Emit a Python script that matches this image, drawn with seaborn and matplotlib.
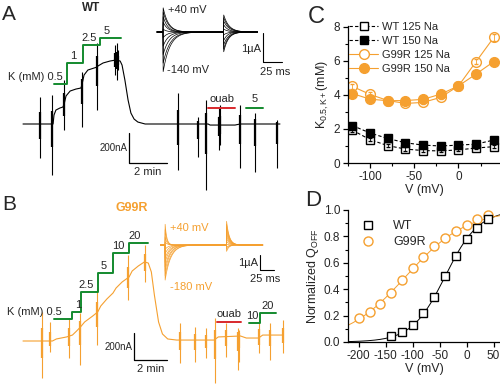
import numpy as np
import pandas as pd
import matplotlib
matplotlib.use("Agg")
import matplotlib.pyplot as plt
import seaborn as sns

# ---------------- data ----------------
ORANGE = "#f5a030"
GREEN = "#138a2e"
RED = "#d8282c"

# panel A: WT current trace (time s, current nA)
a_t = [0, 95, 98, 104, 117, 126, 130, 136, 149, 167, 183, 186, 193, 205, 224, 234,
       237, 253, 275, 294, 307, 313, 322, 332, 341, 351, 363, 386, 585, 591, 670, 686, 812]
a_i = [0, 0, 60, 93, 107, 113, 133, 187, 220, 233, 240, 260, 327, 360, 373, 380,
       387, 407, 420, 427, 420, 393, 293, 160, 73, 33, 13, 0, 0, -7, -7, 0, 0]
a_spk_t = [54, 92, 130, 186, 234, 291, 297, 300, 490, 553, 578, 619, 623, 686, 733, 803]
a_spk_top = [180, 193, 293, 347, 540, 527, 540, 493, 207, 47, 160, 107, 127, 127, 73, 27]
a_spk_bot = [-227, -340, -40, -20, 93, 327, 293, 360, -307, -220, -440, -173, -140, -293, -320, -293]
a_k_conc = ["0.5", "1", "2.5", "5"]
a_k_t = [98, 139, 190, 243, 310]
a_k_y = [267, 407, 527, 573]
a_ouab_t = [585, 670]
a_post_conc = ["5"]
a_post_t = [705, 758]
a_post_y = [107]

# panel B: G99R current trace
b_t = [0, 106, 120, 157, 178, 193, 207, 222, 251, 269, 280, 302, 324, 335, 357, 382,
       393, 415, 437, 451, 462, 473, 488, 502, 521, 553, 688, 703, 783, 804, 848, 863, 935]
b_i = [0, 0, 15, 30, 44, 74, 104, 141, 185, 215, 259, 311, 355, 392, 437, 474,
       518, 555, 585, 577, 511, 340, 141, 52, 15, 7, 7, 30, 37, 22, 22, 44, 44]
b_spk_t = [69, 98, 167, 204, 266, 379, 440, 564, 619, 659, 692, 732, 775, 779, 848, 888, 935]
b_spk_top = [215, 141, 170, 207, 392, 636, 710, 133, 104, 96, 170, 133, 96, 81, 170, 133, 155]
b_spk_bot = [-274, -81, -126, -178, -30, 303, 437, -163, -155, -126, -311, -118, -215, -155, -89, -141, -89]
b_k_conc = ["0.5", "1", "2.5", "5", "10", "20"]
b_k_t = [113, 178, 207, 269, 324, 382, 451]
b_k_y = [163, 215, 363, 503, 651, 725]
b_ouab_t = [699, 783]
b_post_conc = ["10", "20"]
b_post_t = [812, 852, 910]
b_post_y = [133, 207]

# insets: gating currents (ms, uA)
ia_volt = [-140, -120, -100, -80, -60, -40, -20, 0, 20, 40]
ia_on = [-1.4, -1.1, -0.8, -0.5, -0.2, 0.1, 0.35, 0.55, 0.72, 0.86]
ia_off = [0.6, 0.5, 0.38, 0.25, 0.1, -0.1, -0.3, -0.45, -0.6, -0.7]
ia_tau_on = [9, 9, 8, 7, 6, 5, 6, 6, 7, 7]
ia_tau_off = [7, 7, 7, 6, 6, 5, 5, 6, 6, 6]
ia_pulse = 80

ib_volt = [-180, -160, -140, -120, -100, -80, -60, -40, -20, 0, 20, 40]
ib_on = [-2.4, -2.1, -1.8, -1.5, -1.2, -0.9, -0.6, -0.3, 0.2, 0.6, 1.1, 1.5]
ib_off = [1.65, 1.45, 1.25, 1.05, 0.85, 0.65, 0.45, 0.25, 0.05, -0.15, -0.3, -0.45]
ib_tau_on = [10, 10, 9, 9, 8, 8, 7, 6, 4, 3, 3, 3]
ib_tau_off = [5, 5, 5, 5, 5, 5, 5, 5, 4, 4, 4, 4]
ib_pulse = 110

# panel C: K0.5 vs voltage
v_c = [-120, -100, -80, -60, -40, -20, 0, 20, 40]
wt125 = [1.93, 1.37, 1.02, 0.82, 0.73, 0.71, 0.77, 0.88, 0.96]
wt150 = [2.2, 1.76, 1.44, 1.19, 1.05, 1.0, 1.05, 1.11, 1.35]
g125 = [4.5, 4.03, 3.67, 3.5, 3.56, 3.86, 4.53, 5.96, 7.38]
g150 = [4.08, 3.75, 3.66, 3.67, 3.74, 4.05, 4.53, 5.23, 5.96]
err_wt125 = [0.1, 0.1, 0.1, 0.1, 0.08, 0.08, 0.08, 0.08, 0.1]
err_wt150 = [0.15, 0.12, 0.1, 0.1, 0.1, 0.1, 0.1, 0.1, 0.1]
err_g125 = [0.15, 0.12, 0.1, 0.1, 0.1, 0.12, 0.12, 0.15, 0.22]
err_g150 = [0.12, 0.1, 0.1, 0.1, 0.1, 0.1, 0.12, 0.12, 0.15]

# panel D: normalized Q-V
v_wt = [-140, -120, -100, -80, -60, -40, -20, 0, 20, 40]
q_wt = [0.045, 0.073, 0.128, 0.217, 0.343, 0.5, 0.652, 0.778, 0.866, 0.932]
v_g = [-200, -180, -160, -140, -120, -100, -80, -60, -40, -20, 0, 20, 40]
q_g = [0.184, 0.225, 0.288, 0.373, 0.47, 0.563, 0.646, 0.727, 0.79, 0.843, 0.886, 0.93, 0.962]
fit_wt = (-39.5, 31.0)   # V1/2, slope
fit_g = (-112.0, 56.0)

# ---------------- style ----------------
sns.set_theme(style="ticks")
plt.rcParams["font.family"] = ["Liberation Sans", "DejaVu Sans"]
plt.rcParams["axes.unicode_minus"] = False
plt.rcParams["mathtext.fontset"] = "custom"
plt.rcParams["mathtext.rm"] = "Liberation Sans"
plt.rcParams["mathtext.it"] = "Liberation Sans:italic"

W, H = 500, 384
fig = plt.figure(figsize=(W / 100, H / 100), dpi=100)


def px_axes(x0, y0, x1, y1):
    return fig.add_axes([x0 / W, 1 - y1 / H, (x1 - x0) / W, (y1 - y0) / H])


def ftext(x, y, s, **kw):
    fig.text(x / W, 1 - y / H, s, **kw)


def trace_axes(rect, t0_px, base_px, sx, sy):
    ax = px_axes(*rect)
    ax.set_xlim((rect[0] - t0_px) * sx, (rect[2] - t0_px) * sx)
    ax.set_ylim((base_px - rect[3]) * sy, (base_px - rect[1]) * sy)
    ax.set_axis_off()
    return ax


def draw_trace(ax, t, i, spk_t, spk_top, spk_bot, color):
    sns.lineplot(x=t, y=i, ax=ax, color=color, lw=0.8, sort=False, estimator=None)
    ax.vlines(spk_t, spk_bot, spk_top, color=color, lw=0.8)
    mid = np.interp(spk_t, t, i)
    lo = mid + 0.45 * (np.array(spk_bot) - mid)
    hi = mid + 0.45 * (np.array(spk_top) - mid)
    ax.vlines(spk_t, lo, hi, color=color, lw=1.6)


def draw_stairs(ax, k_t, k_y, conc, first_prefix=""):
    ax.plot(k_t, list(k_y) + [k_y[-1]], drawstyle="steps-post", color=GREEN, lw=1.4)
    for n, (tt, yy, c) in enumerate(zip(k_t, k_y, conc)):
        if n == 0 and first_prefix:
            ax.text(tt + 27, yy + 12, first_prefix + c, ha="right", va="bottom", fontsize=8)
        else:
            ax.text(tt + 20, yy + 12, c, ha="center", va="bottom", fontsize=8)


def draw_inset(ax, volt, a_on, a_off, tau_on, tau_off, pulse, t_end, color):
    t = np.linspace(-8, t_end, 600)
    for k in range(len(volt)):
        y = np.where(t >= 0, a_on[k] * np.exp(-np.clip(t, 0, None) / tau_on[k]), 0.0)
        y = np.where(t >= pulse, a_off[k] * np.exp(-np.clip(t - pulse, 0, None) / tau_off[k]), y)
        ax.plot(t, y, color=color, lw=0.5)


# ---------------- panel A ----------------
axA = trace_axes((0, 0, 300, 195), 23, 124, 3.16, 6.67)
draw_trace(axA, a_t, a_i, a_spk_t, a_spk_top, a_spk_bot, "black")
draw_stairs(axA, a_k_t, a_k_y, a_k_conc, "K (mM) ")
axA.plot(a_ouab_t, [a_post_y[0]] * 2, color=RED, lw=1.4)
axA.text(np.mean(a_ouab_t), a_post_y[0] + 25, "ouab", ha="center", va="bottom", fontsize=8)
axA.plot(a_post_t, a_post_y * 2, color=GREEN, lw=1.4)
axA.text(np.mean(a_post_t), a_post_y[0] + 25, a_post_conc[0], ha="center", va="bottom", fontsize=8)
axA.plot([335, 335, 455], [-60, -260, -260], color="black", lw=0.9)
axA.text(330, -160, "200nA", ha="right", va="center", fontsize=7)
axA.text(395, -290, "2 min", ha="center", va="top", fontsize=8)

axAi = trace_axes((150, 0, 300, 85), 163, 32, 1.32, 1 / 29)
draw_inset(axAi, ia_volt, ia_on, ia_off, ia_tau_on, ia_tau_off, ia_pulse, 125, "black")
axAi.plot([132, 132, 157], [-0.03, -1.03, -1.03], color="black", lw=0.8)
axAi.text(129, -0.6, "1µA", ha="right", va="center", fontsize=8)
axAi.text(148, -1.2, "25 ms", ha="center", va="top", fontsize=8)
ftext(168, 10, "+40 mV", ha="left", va="center", fontsize=8)
ftext(167, 70, "-140 mV", ha="left", va="center", fontsize=8)
ftext(91, 8, "WT", ha="center", va="center", fontsize=8.5, fontweight="bold")
ftext(2, 14, "A", ha="left", va="center", fontsize=15)

# ---------------- panel B ----------------
axB = trace_axes((0, 195, 300, 384), 23, 341, 3.6, 7.4)
draw_trace(axB, b_t, b_i, b_spk_t, b_spk_top, b_spk_bot, ORANGE)
draw_stairs(axB, b_k_t, b_k_y, b_k_conc, "K (mM) ")
axB.plot(b_ouab_t, [141, 141], color=RED, lw=1.4)
axB.text(np.mean(b_ouab_t), 165, "ouab", ha="center", va="bottom", fontsize=8)
axB.plot(b_post_t, b_post_y + [b_post_y[-1]], drawstyle="steps-post", color=GREEN, lw=1.4)
axB.text(b_post_t[0] + 14, b_post_y[0] + 12, b_post_conc[0], ha="center", va="bottom", fontsize=8)
axB.text(b_post_t[1] + 29, b_post_y[1] + 12, b_post_conc[1], ha="center", va="bottom", fontsize=8)
axB.plot([400, 400, 520], [59, -141, -141], color="black", lw=0.9)
axB.text(393, -44, "200nA", ha="right", va="center", fontsize=7)
axB.text(460, -170, "2 min", ha="center", va="top", fontsize=8)

axBi = trace_axes((150, 195, 300, 300), 165, 245, 1.79, 1 / 15)
draw_inset(axBi, ib_volt, ib_on, ib_off, ib_tau_on, ib_tau_off, ib_pulse, 175, ORANGE)
axBi.plot([170, 170, 195], [-0.65, -1.65, -1.65], color="black", lw=0.8)
axBi.text(167, -1.2, "1µA", ha="right", va="center", fontsize=8)
axBi.text(180, -1.9, "25 ms", ha="center", va="top", fontsize=8)
ftext(170, 228, "+40 mV", ha="left", va="center", fontsize=8, color=ORANGE)
ftext(170, 287, "-180 mV", ha="left", va="center", fontsize=8, color=ORANGE)
ftext(132, 208, "G99R", ha="center", va="center", fontsize=9, fontweight="bold", color=ORANGE)
ftext(2, 204, "B", ha="left", va="center", fontsize=15)

# ---------------- panel C ----------------
axC = px_axes(348, 26, 500, 163)
series_c = [
    ("WT 125 Na", wt125, err_wt125, "black", "s", "white", (3, 2), 6),
    ("WT 150 Na", wt150, err_wt150, "black", "s", "black", (3, 2), 6),
    ("G99R 125 Na", g125, err_g125, ORANGE, "o", "white", (None, None), 7),
    ("G99R 150 Na", g150, err_g150, ORANGE, "o", ORANGE, (None, None), 7),
]
for name, vals, err, col, mk, fc, dash, ms in series_c:
    df = pd.DataFrame({"V": v_c, "K": vals})
    ls = (0, dash) if dash[0] else "-"
    sns.lineplot(data=df, x="V", y="K", ax=axC, color=col, lw=0.8, linestyle=ls,
                 marker=mk, markersize=ms, markerfacecolor=fc, markeredgecolor=col,
                 markeredgewidth=1.0, label=name)
    axC.errorbar(v_c, vals, yerr=err, fmt="none", ecolor=col, elinewidth=0.6, capsize=1.5, zorder=5)
axC.set_xlim(-125, 47)
axC.set_ylim(0, 8.05)
axC.set_xticks([-100, -50, 0])
axC.set_xticks([-125, -75, -25, 25], minor=True)
axC.set_yticks([0, 2, 4, 6, 8])
axC.set_yticks([1, 3, 5, 7], minor=True)
axC.set_xlabel("V (mV)", fontsize=9, labelpad=1)
axC.set_ylabel(r"K$_{0.5,\mathrm{K+}}$(mM)", fontsize=9, labelpad=2)
leg = axC.legend(loc="upper left", bbox_to_anchor=(-0.02, 1.06), frameon=False, fontsize=8,
                 handlelength=2.6, handletextpad=0.3, labelspacing=0.35, borderaxespad=0)
ftext(316, 17, "C", ha="center", va="center", fontsize=17)

# ---------------- panel D ----------------
axD = px_axes(348, 210, 500, 342)
vfit = np.linspace(-220, 62, 200)
for (vh, k), col in [(fit_wt, "black"), (fit_g, ORANGE)]:
    sns.lineplot(x=vfit, y=1 / (1 + np.exp(-(vfit - vh) / k)), ax=axD, color=col, lw=0.7)
axD.errorbar(v_g, q_g, yerr=0.015, fmt="o", ms=6.5, mfc="white", mec=ORANGE, mew=1.0,
             ecolor=ORANGE, elinewidth=0.6, capsize=1.5, label="G99R", zorder=4)
axD.errorbar(v_wt, q_wt, yerr=0.015, fmt="s", ms=6, mfc="white", mec="black", mew=1.0,
             ecolor="black", elinewidth=0.6, capsize=1.5, label="WT", zorder=5)
axD.set_xlim(-220, 62)
axD.set_ylim(0, 1.0)
axD.set_xticks([-200, -150, -100, -50, 0, 50])
axD.set_yticks([0, 0.2, 0.4, 0.6, 0.8, 1.0])
axD.set_yticks([0.1, 0.3, 0.5, 0.7, 0.9], minor=True)
axD.yaxis.set_major_formatter(matplotlib.ticker.FormatStrFormatter("%.1f"))
axD.set_xlabel("V (mV)", fontsize=9, labelpad=1)
axD.set_ylabel(r"Normalized Q$_{\mathrm{OFF}}$", fontsize=9, labelpad=2)
h, l = axD.get_legend_handles_labels()
order = [l.index("WT"), l.index("G99R")]
axD.legend([h[o][0] for o in order], [l[o] for o in order], loc="upper left",
           bbox_to_anchor=(0.0, 0.98), frameon=False, fontsize=9, handletextpad=1.0,
           labelspacing=0.3, borderaxespad=0.2)
ftext(313, 200, "D", ha="center", va="center", fontsize=16)

for ax in (axC, axD):
    sns.despine(ax=ax)
    ax.tick_params(which="major", length=3.5, width=0.9, labelsize=8.5, pad=2, color="black")
    ax.tick_params(which="minor", length=2, width=0.8, color="black")
    for s in ("left", "bottom"):
        ax.spines[s].set_linewidth(0.9)
        ax.spines[s].set_color("black")
    ax.set_facecolor("none")

fig.savefig("out.png", dpi=100)
